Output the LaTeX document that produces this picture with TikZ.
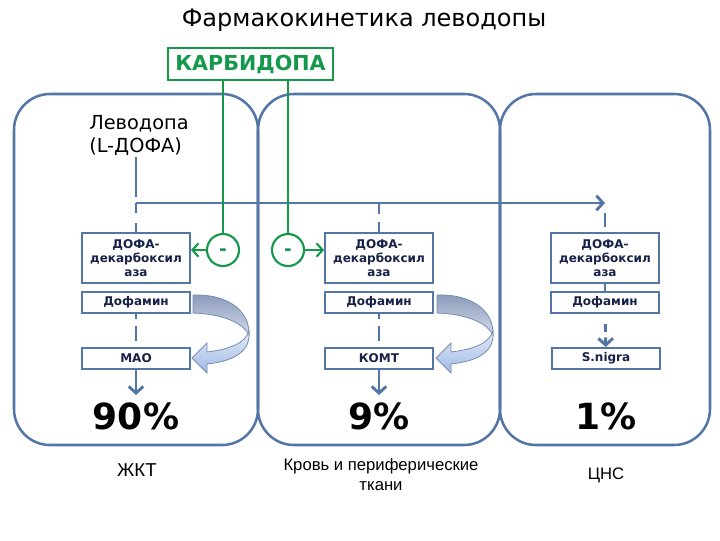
\documentclass[tikz,border=0pt]{standalone}
\usepackage{fontspec}
\setmainfont{DejaVu Sans}
\newfontfamily\arialfont{Liberation Sans}
\usetikzlibrary{positioning,arrows.meta}
\definecolor{lineblue}{RGB}{84,118,166}
\definecolor{carbgreen}{RGB}{22,152,76}
\definecolor{boxtext}{RGB}{24,34,72}
\definecolor{curlA}{RGB}{138,154,186}
\definecolor{curlB}{RGB}{210,218,236}
\definecolor{curlC}{RGB}{228,235,250}
\definecolor{curlD}{RGB}{160,186,228}
\definecolor{curlE}{RGB}{120,140,175}

\tikzset{
  curl/.pic={
    % тёмная задняя часть
    \path[top color=curlA,bottom color=curlB,draw=curlE,line width=0.6pt]
      (0,0) .. controls (38,-1) and (57,18) .. (56,40)
      .. controls (50,28) and (30,19) .. (0,18) -- cycle;
    % светлая часть со стрелкой
    \path[top color=curlC,bottom color=curlD,draw=curlE,line width=0.6pt]
      (56,36) .. controls (58,56) and (42,66) .. (14,69)
      -- (14,78) -- (-1,63) -- (14,48) -- (14,57)
      .. controls (38,54) and (52,48) .. (56,36) -- cycle;
  }
}

\begin{document}
\begin{tikzpicture}[
  x=0.75pt,y=-0.75pt,
  panel/.style={draw=lineblue,line width=1.9pt,rounded corners=27pt},
  enzyme/.style={draw=lineblue,line width=1.5pt,fill=white,
    minimum width=81pt,minimum height=37.5pt,inner sep=0pt,align=center,
    font=\fontsize{9}{10.5}\selectfont\bfseries,text=boxtext},
  stage/.style={enzyme,minimum height=15.75pt},
  flow/.style={draw=lineblue,line width=2.2pt},
  barb/.style={-{Straight Barb[length=5pt,width=11pt]}},
  inhib/.style={circle,draw=carbgreen,line width=1.6pt,minimum size=24pt,
    inner sep=0pt,font=\fontsize{14}{14}\selectfont\bfseries,text=carbgreen},
  gline/.style={draw=carbgreen,line width=1.6pt},
  pct/.style={font=\fontsize{27}{30}\selectfont\bfseries},
  region/.style={font=\arialfont\fontsize{12.5}{15}\selectfont,align=center}
]
\useasboundingbox (0,0) rectangle (720,540);

\node[font=\fontsize{18}{20}\selectfont] (title) at (364,20) {Фармакокинетика леводопы};

% три отдела
\draw[panel] (14,94) rectangle (258,445);
\draw[panel] (258,94) rectangle (500,445);
\draw[panel] (500,94) rectangle (710,445);

\node[font=\fontsize{14.5}{17}\selectfont,align=left,anchor=north west,inner sep=0pt]
  (lev) at (89,115) {Леводопа\\(L-ДОФА)};

% ферменты и метаболиты
\foreach \i/\x in {1/136,2/379,3/605}{
  \node[enzyme] (dc\i) at (\x,258) {ДОФА-\\декарбоксил\\аза};
  \node[stage] (da\i) at (\x,302.5) {Дофамин};
}
\node[stage] (mao) at (136,358.5) {МАО};
\node[stage] (comt) at (379,358.5) {КОМТ};
\node[stage] (sn) at (606,358.5) {S.nigra};

\node[pct] (p1) at (136,416) {90\%};
\node[pct] (p2) at (379,416) {9\%};
\node[pct] (p3) at (606,416) {1\%};

\node[region,font=\arialfont\fontsize{14}{15}\selectfont] (r1) at (137,470) {ЖКТ};
\node[region] (r2) at (381,475) {Кровь и периферические\\ткани};
\node[region] (r3) at (606,475) {ЦНС};

% поток леводопы
\coordinate (j1) at (136,203);
\coordinate (j3) at (605,203);
\draw[flow,dash pattern=on 30pt off 4.5pt on 7.5pt off 7.5pt on 8pt]
  (dc1.north |- lev.south) ++(0,2) -- (dc1.north);
\draw[flow,barb] (j1) -- (j3);
\draw[flow,dash pattern=on 8pt off 6pt] (dc2.north |- j1) -- (dc2.north);
\draw[flow,shorten <=7.5pt,shorten >=4pt] (j3) -- (dc3.north);

\draw[flow,dash pattern=on 3.75pt off 5.25pt on 11.25pt off 6pt] (da1) -- (mao);
\draw[flow,dash pattern=on 3.75pt off 5.25pt on 11.25pt off 6pt] (da2) -- (comt);
\draw[flow] (dc3) -- (da3);
\draw[flow,barb,shorten <=7.5pt,dash pattern=on 6pt off 4pt] (da3) -- (sn);

\draw[flow,barb,shorten >=2pt] (mao) -- (p1);
\draw[flow,barb,shorten >=2pt] (comt) -- (p2);

% распад дофамина
\pic at (193,295) {curl};
\pic at (437,295) {curl};

% карбидопа
\node[draw=carbgreen,line width=1.9pt,minimum width=123.75pt,minimum height=24pt,
  inner sep=0pt,font=\fontsize{15.5}{18}\selectfont\bfseries,text=carbgreen]
  (carb) at (250.5,64) {КАРБИДОПА};
\node[inhib] (c1) at (223,250) {\smash{\raisebox{-4pt}{-}}};
\node[inhib] (c2) at (288,250) {\smash{\raisebox{-4pt}{-}}};
\draw[gline] (carb.south -| c1) -- (c1);
\draw[gline] (carb.south -| c2) -- (c2);
\draw[gline,-{Straight Barb[length=4.5pt,width=10pt]}] (c1.west) -- (c1.west -| dc1.east);
\draw[gline,-{Straight Barb[length=4.5pt,width=10pt]}] (c2.east) -- (c2.east -| dc2.west);

\end{tikzpicture}
\end{document}
